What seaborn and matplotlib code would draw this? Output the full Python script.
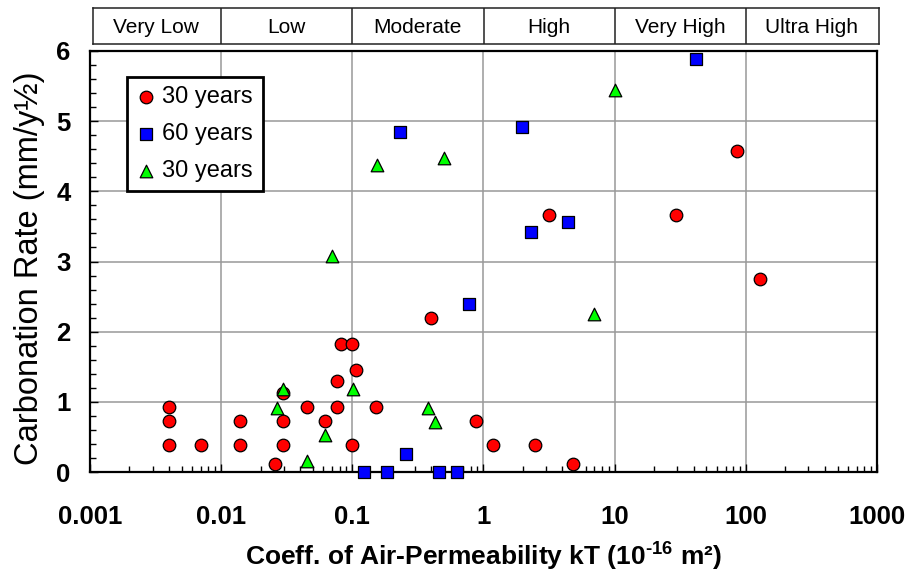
import numpy as np
import pandas as pd
import matplotlib
matplotlib.use("Agg")
import matplotlib.pyplot as plt
import seaborn as sns
from matplotlib.ticker import MultipleLocator, LogLocator, NullFormatter, FixedLocator, FixedFormatter

# ---------------- data ----------------
red_x = [0.004, 0.004, 0.004, 0.007, 0.0138, 0.0138, 0.0295, 0.0295, 0.0295, 0.0256,
         0.045, 0.0617, 0.0766, 0.0766, 0.082, 0.099, 0.107, 0.099, 0.151, 0.40,
         0.88, 1.18, 2.46, 4.83, 3.15, 29.4, 85.7, 129]
red_y = [0.93, 0.73, 0.38, 0.38, 0.73, 0.38, 1.12, 0.73, 0.38, 0.11,
         0.93, 0.73, 1.29, 0.93, 1.83, 1.83, 1.46, 0.38, 0.93, 2.20,
         0.73, 0.38, 0.38, 0.11, 3.66, 3.66, 4.58, 2.75]

blue_x = [0.23, 0.77, 0.256, 0.123, 0.183, 0.46, 0.63, 42, 1.97, 2.30, 4.40]
blue_y = [4.85, 2.40, 0.26, 0.0, 0.0, 0.0, 0.0, 5.89, 4.91, 3.42, 3.56]

green_x = [0.0697, 0.155, 0.497, 0.0297, 0.0267, 0.101, 0.0624, 0.0455, 0.38, 0.43, 10.1, 6.98]
green_y = [3.08, 4.37, 4.47, 1.18, 0.91, 1.18, 0.53, 0.16, 0.91, 0.71, 5.45, 2.25]

series_labels = ["30 years", "60 years", "30 years"]
band_labels = ["Very Low", "Low", "Moderate", "High", "Very High", "Ultra High"]
band_edges = [0.001, 0.01, 0.1, 1, 10, 100, 1000]
x_ticks = [0.001, 0.01, 0.1, 1, 10, 100, 1000]
x_ticklabels = ["0.001", "0.01", "0.1", "1", "10", "100", "1000"]
y_ticks = [0, 1, 2, 3, 4, 5, 6]

# ---------------- style ----------------
sns.set_style("ticks")
plt.rcParams['font.family'] = ['Liberation Sans', 'DejaVu Sans']
plt.rcParams['text.color'] = 'black'
plt.rcParams['axes.labelcolor'] = 'black'
plt.rcParams['xtick.color'] = 'black'
plt.rcParams['ytick.color'] = 'black'
plt.rcParams['mathtext.fontset'] = 'custom'
plt.rcParams['mathtext.rm'] = 'Liberation Sans:bold'
plt.rcParams['mathtext.it'] = 'Liberation Sans:bold'
plt.rcParams['mathtext.bf'] = 'Liberation Sans:bold'
plt.rcParams['mathtext.default'] = 'rm'

W, H = 911, 576
fig = plt.figure(figsize=(W / 100, H / 100), dpi=100)
ax_l, ax_r, ax_t, ax_b = 90, 877, 51, 472
ax = fig.add_axes([ax_l / W, 1 - ax_b / H, (ax_r - ax_l) / W, (ax_b - ax_t) / H])

df_r = pd.DataFrame({"x": red_x, "y": red_y})
df_b = pd.DataFrame({"x": blue_x, "y": blue_y})
df_g = pd.DataFrame({"x": green_x, "y": green_y})

common = dict(edgecolor="black", linewidth=0.9, clip_on=False, zorder=4, ax=ax)
sns.scatterplot(data=df_r, x="x", y="y", color="#ff0000", marker="o", s=82, label=series_labels[0], **common)
sns.scatterplot(data=df_b, x="x", y="y", color="#0000ff", marker="s", s=70, label=series_labels[1], **common)
sns.scatterplot(data=df_g, x="x", y="y", color="#00ff00", marker="^", s=82, label=series_labels[2], **common)

ax.set_xscale("log")
ax.set_xlim(x_ticks[0], x_ticks[-1])
ax.set_ylim(y_ticks[0], y_ticks[-1])
ax.xaxis.set_major_locator(FixedLocator(x_ticks))
ax.xaxis.set_major_formatter(FixedFormatter(x_ticklabels))
ax.xaxis.set_minor_locator(LogLocator(base=10, subs=np.arange(2, 10)))
ax.xaxis.set_minor_formatter(NullFormatter())
ax.yaxis.set_major_locator(FixedLocator(y_ticks))
ax.yaxis.set_minor_locator(MultipleLocator(0.2))

ax.grid(True, which="major", color="#999999", linewidth=1.1, zorder=0)
ax.set_axisbelow(True)
for sp in ax.spines.values():
    sp.set_visible(True)
    sp.set_linewidth(1.6)
    sp.set_color("black")
    sp.set_zorder(3)

ax.tick_params(axis="both", which="both", direction="in", top=False, right=False, width=1.0, color="black")
ax.tick_params(axis="both", which="major", length=6)
ax.tick_params(axis="both", which="minor", length=4)
ax.tick_params(axis="x", which="major", pad=24, labelsize=18.5)
ax.tick_params(axis="y", which="major", pad=14, labelsize=18.5)
for lab in ax.get_xticklabels() + ax.get_yticklabels():
    lab.set_fontweight("bold")

ax.set_xlabel("Coeff. of Air-Permeability kT (10$^{\u2010 16}$ m²)", fontsize=19, fontweight="bold", labelpad=8)
ax.set_ylabel("Carbonation Rate (mm/y½)", fontsize=23.5)
ax.yaxis.set_label_coords((45 - ax_l) / (ax_r - ax_l), 1 - (268 - ax_t) / (ax_b - ax_t))

leg = ax.legend(loc="upper left", bbox_to_anchor=((127 - ax_l) / (ax_r - ax_l), 1 - (77 - ax_t) / (ax_b - ax_t)),
                borderaxespad=0, fontsize=17, frameon=True, fancybox=False, shadow=False,
                handlelength=0.85, handletextpad=0.25, labelspacing=0.62, borderpad=0.4, markerscale=1.0)
leg.get_frame().set_edgecolor("black")
leg.get_frame().set_linewidth(2.0)
leg.get_frame().set_facecolor("white")
leg.get_frame().set_alpha(1)
leg.set_zorder(5)

# ---------------- category band ----------------
b_l, b_r, b_t, b_b = 93, 879, 8, 44
bx = fig.add_axes([b_l / W, 1 - b_b / H, (b_r - b_l) / W, (b_b - b_t) / H])
bx.set_xscale("log")
dec = (ax_r - ax_l) / 6.0
lo = np.log10(x_ticks[0])
bx.set_xlim(10 ** (lo + (b_l - ax_l) / dec), 10 ** (lo + (b_r - ax_l) / dec))
bx.set_ylim(0, 1)
bx.set_xticks([])
bx.set_yticks([])
bx.minorticks_off()
bx.tick_params(which="both", length=0, labelbottom=False, labelleft=False)
for sp in bx.spines.values():
    sp.set_visible(True)
    sp.set_linewidth(1.1)
    sp.set_color("#222222")
for e in band_edges[1:-1]:
    bx.axvline(e, color="#222222", linewidth=1.1)
for i, lab in enumerate(band_labels):
    xc = np.sqrt(band_edges[i] * band_edges[i + 1])
    bx.text(xc, 0.47, lab, ha="center", va="center", fontsize=15)

fig.savefig("out.png", dpi=100)
